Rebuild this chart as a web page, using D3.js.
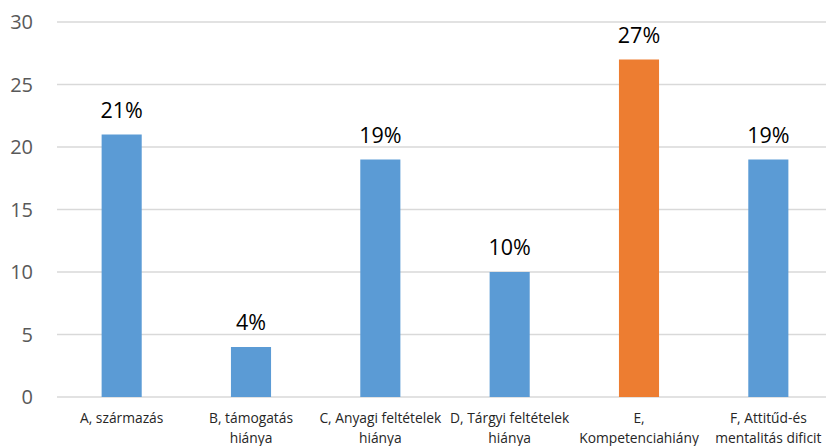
<!DOCTYPE html>
<html>
<head>
<meta charset="utf-8">
<script src="https://cdn.jsdelivr.net/npm/d3@7"></script>
<style>
  body { margin: 0; background: #fff; }
  svg text { font-family: "Open Sans", "Noto Sans", sans-serif; }
</style>
</head>
<body>
<svg id="chart"></svg>
<script>
const categories = ["A", "B", "C", "D", "E", "F"]
const labelLines = [
  ["A, származás"],
  ["B, támogatás", "hiánya"],
  ["C, Anyagi feltételek", "hiánya"],
  ["D, Tárgyi feltételek", "hiánya"],
  ["E,", "Kompetenciahiány"],
  ["F, Attitűd-és", "mentalitás dificit"]
]
const values = [21, 4, 19, 10, 27, 19]
const highlight = ["E"]
const yTicks = [0, 5, 10, 15, 20, 25, 30]

const W = 826, H = 446
const svg = d3.select("#chart").attr("width", W).attr("height", H)

let x = d3.scaleBand()
  .domain(categories)
  .range([57, 833])
  .paddingInner(0.69)
  .paddingOuter(0.345)

let y = d3.scaleLinear()
  .domain([0, 30])
  .range([397, 22])

// gridlines
svg.append("g")
  .selectAll("line")
  .data(yTicks)
  .enter().append("line")
  .attr("x1", 57)
  .attr("x2", W)
  .attr("y1", d => y(d))
  .attr("y2", d => y(d))
  .attr("stroke", "#d9d9d9")
  .attr("stroke-width", 1.5)

// y tick labels
svg.append("g")
  .selectAll("text")
  .data(yTicks)
  .enter().append("text")
  .attr("x", 33)
  .attr("y", d => y(d))
  .attr("dy", "0.36em")
  .attr("text-anchor", "end")
  .attr("fill", "#595959")
  .style("font-size", "20px")
  .text(d => d)

// bars
svg.append("g")
  .selectAll("rect")
  .data(values)
  .enter().append("rect")
  .attr("x", (d, i) => x(categories[i]))
  .attr("width", x.bandwidth())
  .attr("y", d => y(d))
  .attr("height", d => y(0) - y(d))
  .attr("fill", (d, i) => highlight.includes(categories[i]) ? "#ed7d31" : "#5b9bd5")

// value labels
svg.append("g")
  .selectAll("text")
  .data(values)
  .enter().append("text")
  .attr("x", (d, i) => x(categories[i]) + x.bandwidth() / 2)
  .attr("y", d => y(d) - 17)
  .attr("text-anchor", "middle")
  .attr("fill", "#000")
  .style("font-size", "21.5px")
  .text(d => d + "%")

// category labels
let cat = svg.append("g")
  .selectAll("text")
  .data(labelLines)
  .enter().append("text")
  .attr("text-anchor", "middle")
  .attr("fill", "#262626")
  .style("font-size", "13.8px")
  .attr("transform", (d, i) => "translate(" + (x(categories[i]) + x.bandwidth() / 2) + ",423)")

cat.selectAll("tspan")
  .data(d => d)
  .enter().append("tspan")
  .attr("x", 0)
  .attr("y", (d, j) => j * 20)
  .text(d => d)
</script>
</body>
</html>
